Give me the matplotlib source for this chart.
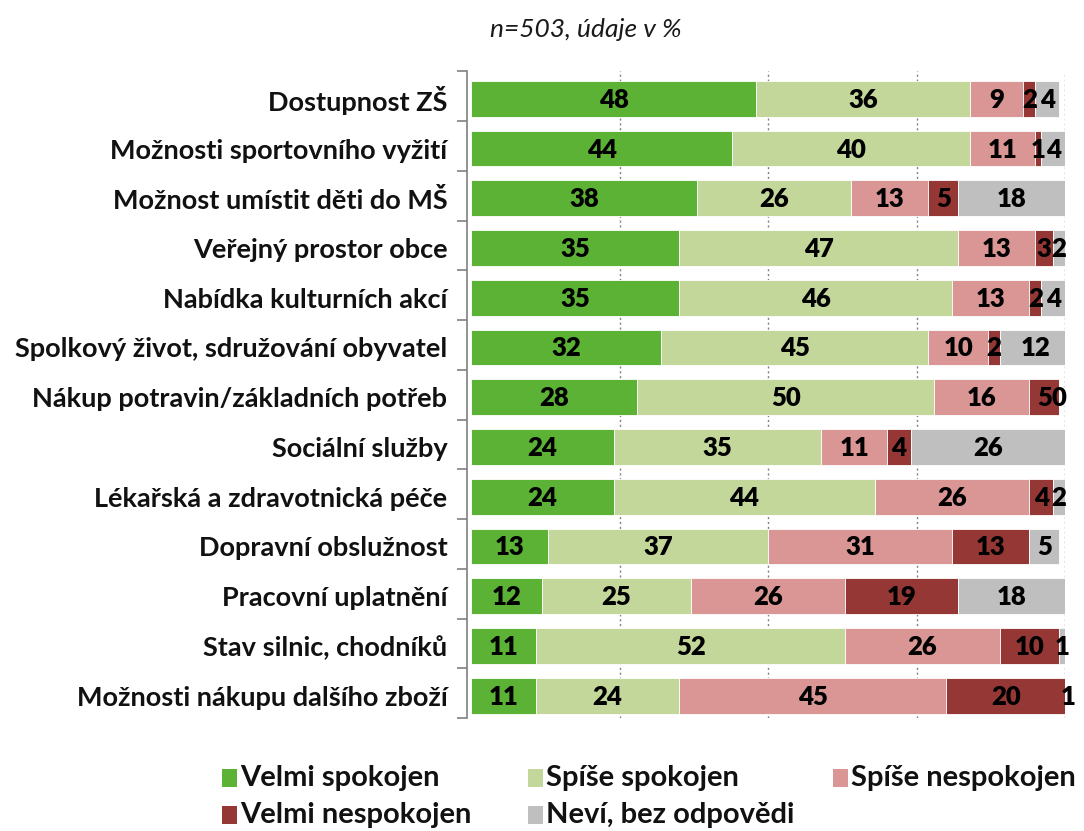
import matplotlib
matplotlib.use("Agg")
import matplotlib.pyplot as plt
from matplotlib.patches import Rectangle
import numpy as np

categories = [
    "Dostupnost ZŠ",
    "Možnosti sportovního vyžití",
    "Možnost umístit děti do MŠ",
    "Veřejný prostor obce",
    "Nabídka kulturních akcí",
    "Spolkový život, sdružování obyvatel",
    "Nákup potravin/základních potřeb",
    "Sociální služby",
    "Lékařská a zdravotnická péče",
    "Dopravní obslužnost",
    "Pracovní uplatnění",
    "Stav silnic, chodníků",
    "Možnosti nákupu dalšího zboží",
]
velmi_spokojen = [48, 44, 38, 35, 35, 32, 28, 24, 24, 13, 12, 11, 11]
spise_spokojen = [36, 40, 26, 47, 46, 45, 50, 35, 44, 37, 25, 52, 24]
spise_nespokojen = [9, 11, 13, 13, 13, 10, 16, 11, 26, 31, 26, 26, 45]
velmi_nespokojen = [2, 1, 5, 3, 2, 2, 5, 4, 4, 13, 19, 10, 20]
nevi = [4, 4, 18, 2, 4, 12, 0, 26, 2, 5, 18, 1, 1]

series_names = ["Velmi spokojen", "Spíše spokojen", "Spíše nespokojen",
                "Velmi nespokojen", "Neví, bez odpovědi"]
colors = ["#5BB234", "#C4D79B", "#DA9694", "#953735", "#BFBFBF"]
title = "n=503, údaje v %"

plt.rcParams['font.family'] = ['Lato', 'DejaVu Sans']

W, H = 1084, 831
fig = plt.figure(figsize=(W / 100, H / 100), dpi=100)
ax = fig.add_axes([0.4345, 0.136, 0.548, 0.778])

for s in ["top", "right", "bottom"]:
    ax.spines[s].set_visible(False)
ax.spines["left"].set_color("#808080")
ax.spines["left"].set_linewidth(1.2)
ax.spines["left"].set_position(("outward", 3))

data = [velmi_spokojen, spise_spokojen, spise_nespokojen, velmi_nespokojen, nevi]
n = len(categories)
y = np.arange(n)
left = np.zeros(n)
for vals, col, name in zip(data, colors, series_names):
    vals = np.array(vals, dtype=float)
    ax.barh(y + 0.05, vals, left=left, height=0.72, color=col, edgecolor="white",
            linewidth=0.6, label=name, zorder=2)
    for yi, (l, v) in enumerate(zip(left, vals)):
        ax.text(l + v / 2, yi + 0.07, f"{int(v)}", ha="center", va="center",
                fontsize=18.5, fontweight="heavy", color="black", zorder=3)
    left += vals

ax.set_xlim(0, 100)
ax.set_ylim(n - 0.5, -0.5)
ax.set_xticks([25, 50, 75, 100])
ax.tick_params(axis="x", length=0, labelbottom=False)
ax.xaxis.grid(True, linestyle=(0, (1.5, 2)), color="#808080", linewidth=1.0, zorder=0)
ax.set_axisbelow(True)

ax.tick_params(axis="y", which="major", length=0, pad=14)
ax.tick_params(axis="y", which="minor", length=7, color="#808080", width=1.2)
ax.set_yticks(np.arange(-0.5, n, 1.0), minor=True)
ax.set_yticks(y + 0.05, labels=categories, fontsize=19.5, fontweight="bold",
              color="#111111")

fig.text(0.54, 0.965, title, ha="center", va="center", fontsize=19,
         style="italic", color="#1a1a1a")

# legend laid out like the original (row-major, 3 columns)
col_x = [222, 528, 833]
row_y = [778, 815]
for i, (name, c) in enumerate(zip(series_names, colors)):
    r, k = divmod(i, 3)
    x0, y0 = col_x[k], row_y[r]
    fig.add_artist(Rectangle((x0 / W, 1 - (y0 + 9) / H), 15 / W, 18 / H,
                             transform=fig.transFigure, facecolor=c,
                             edgecolor="none"))
    fig.text((x0 + 18) / W, 1 - y0 / H, name, ha="left", va="center",
             fontsize=21, fontweight="bold", color="#111111")

fig.savefig("out.png", dpi=100)
